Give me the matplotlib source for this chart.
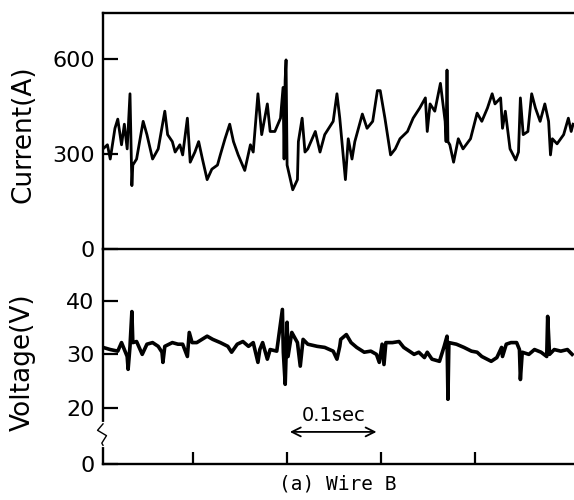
import matplotlib.pyplot as plt
import numpy as np

# current trace (time in ms, current in A)
t_cur = [4.3, 9, 12, 17, 20, 24, 27, 30, 33, 35, 36, 40, 47, 51, 57, 63, 70, 73, 78, 81,
         86, 89, 94, 97, 102, 106, 110, 115, 120, 126, 129, 134, 139, 143, 148, 155, 161, 164, 169, 173,
         179, 182, 187, 193, 195.7, 196.8, 197.9, 198.9, 200, 201, 206, 211, 212, 216, 219, 222, 230, 235, 240, 249,
         253, 256, 262, 265, 269, 272, 280, 285, 291, 296, 299, 304, 310, 315, 320, 328, 334, 341, 347, 349,
         352, 357, 363, 368, 369, 370, 371, 373, 377, 382, 387, 395, 402, 407, 413, 418, 421, 427, 429, 432,
         437, 443, 446, 448, 451, 456, 460, 464, 469, 474, 478, 480, 482, 487, 494, 499, 502, 504]
cur = [316, 329, 284, 381, 410, 329, 394, 316, 490, 200, 265, 284, 403, 361, 284, 316, 435, 361, 339, 306,
       329, 297, 413, 274, 306, 339, 284, 219, 252, 265, 297, 348, 394, 339, 297, 248, 329, 306, 490, 361,
       458, 371, 371, 413, 510, 284, 532, 597, 265, 252, 187, 219, 339, 413, 306, 316, 371, 306, 361, 403,
       490, 413, 219, 348, 284, 339, 426, 381, 403, 500, 500, 413, 297, 316, 348, 371, 413, 445, 477, 371,
       458, 435, 523, 403, 339, 565, 339, 329, 274, 348, 316, 348, 429, 403, 445, 490, 458, 477, 381, 435,
       316, 281, 306, 477, 361, 371, 490, 445, 403, 458, 403, 297, 348, 332, 361, 413, 371, 394]

# voltage trace (time in ms, voltage in V)
t_volt = [4.3, 12, 20, 24, 30, 31, 33, 35, 36, 40, 46, 51, 57, 63, 67, 68, 70, 78, 84, 89,
          94, 96, 99, 104, 115, 121, 129, 137, 141, 147, 153, 159, 164, 169, 171, 174, 179, 182, 189, 195,
          196, 198, 200, 201, 205, 211, 214, 217, 222, 232, 240, 249, 253, 256, 257, 263, 268, 274, 282, 289,
          295, 298, 301, 303, 305, 312, 319, 324, 330, 335, 340, 346, 349, 354, 362, 367, 370, 371, 372, 380,
          388, 396, 402, 407, 417, 423, 428, 429, 433, 438, 444, 447, 448, 450, 457, 463, 470, 476, 477, 479,
          484, 491, 498, 503]
volt = [31.3, 30.9, 30.6, 32.2, 29.6, 27.2, 31.5, 38.0, 32.2, 32.4, 30.0, 31.9, 32.2, 31.5, 30.4, 28.5, 31.5, 32.2, 31.9, 31.9,
        29.6, 34.1, 32.2, 32.2, 33.4, 32.8, 32.2, 31.5, 30.4, 31.9, 32.4, 31.5, 32.2, 28.5, 30.9, 32.2, 29.1, 30.9, 30.6, 38.4,
        30.4, 24.4, 36.0, 29.6, 34.1, 32.2, 27.8, 32.8, 31.9, 31.5, 31.3, 30.6, 29.1, 31.5, 32.8, 33.7, 32.2, 31.3, 30.4, 30.6,
        30.0, 28.5, 31.9, 28.1, 32.2, 32.2, 32.4, 31.3, 30.6, 30.0, 30.4, 29.4, 30.4, 29.1, 28.7, 31.5, 33.4, 21.6, 32.2, 31.9,
        31.3, 30.6, 30.4, 29.6, 28.7, 29.4, 31.3, 29.6, 31.9, 32.2, 32.2, 30.9, 25.3, 30.4, 30.0, 30.9, 30.4, 29.6, 37.1, 30.0,
        30.9, 30.6, 30.9, 30.0]

cur_ticks = [0, 300, 600]
volt_ticks = [9.5, 20, 30, 40]
volt_labels = ['0', '20', '30', '40']
time_ticks = [100, 200, 300, 400]

fig = plt.figure(figsize=(5.74, 5.0), dpi=100)
ax2 = fig.add_axes([103/574, 1-464/500, 471/574, 215/500])
ax1 = fig.add_axes([103/574, 1-249/500, 471/574, 236/500])
ax1.patch.set_visible(False)
ax2.patch.set_visible(False)

for ax in (ax1, ax2):
    ax.spines['right'].set_visible(False)
    for s in ('left', 'top', 'bottom'):
        ax.spines[s].set_linewidth(1.7)
    ax.set_xlim(4.3, 505)
    ax.tick_params(axis='y', direction='in', length=11, width=1.6, labelsize=16, pad=6)

ax1.plot(t_cur, cur, color='black', lw=2.0)
ax1.set_ylim(0, 745)
ax1.set_yticks(cur_ticks)
ax1.set_xticks([])

ax2.plot(t_volt, volt, color='black', lw=2.6)
ax2.set_ylim(9.5, 49.7)
ax2.set_yticks(volt_ticks)
ax2.set_yticklabels(volt_labels)
ax2.spines['top'].set_visible(False)
ax2.set_xticks(time_ticks)
ax2.tick_params(axis='x', direction='in', length=9, width=1.6, labelbottom=False)

# axis break mark on the voltage axis
ax2.plot([4.3, 4.3], [13.0, 17.0], color='white', lw=3, clip_on=False, zorder=5)
ax2.plot([4.3, -1.5, 8.0, 3.0, 4.3], [17.0, 15.8, 14.8, 13.4, 13.0], color='black', lw=1.0,
         clip_on=False, zorder=6)

# 0.1 sec scale bar
ax2.annotate('', xy=(200, 15.5), xytext=(298, 15.5),
             arrowprops=dict(arrowstyle='<->', color='black', lw=1.3, mutation_scale=16))
ax2.text(249, 18.6, '0.1sec', ha='center', va='center', fontsize=14)

fig.text(23/574, 1-134/500, 'Current(A)', rotation=90, ha='center', va='center', fontsize=19)
fig.text(23/574, 1-362/500, 'Voltage(V)', rotation=90, ha='center', va='center', fontsize=19)
fig.text(338/574, 1-484/500, '(a) Wire B', ha='center', va='center', fontsize=14,
         family='DejaVu Sans Mono')

fig.savefig('out.png', dpi=100)
